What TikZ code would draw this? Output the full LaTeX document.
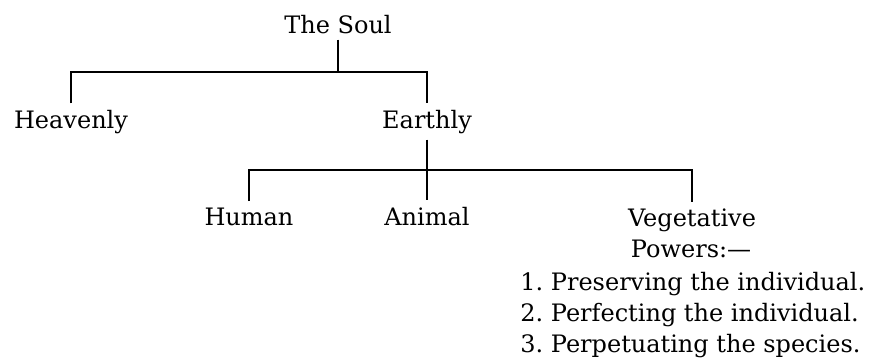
\documentclass[tikz,border=0pt]{standalone}
\usepackage{fontspec}
\setmainfont{DejaVu Serif}
\usepackage{tikz}
\usetikzlibrary{positioning}
\usetikzlibrary{calc}

\begin{document}
\frenchspacing
\begin{tikzpicture}[x=0.5pt,y=-0.5pt,
  label/.style={inner sep=3pt,anchor=base,font=\fontsize{12}{15.5}\selectfont},
  item/.style={inner sep=0pt,anchor=base west,font=\fontsize{12}{15.5}\selectfont},
  branch/.style={line width=1.25pt}]
\useasboundingbox (0,0) rectangle (871,359);

\node[label] (soul) at (338,33) {The Soul};
\node[label] (heavenly) at (71,128) {Heavenly};
\node[label] (earthly) at (427,128) {Earthly};

\node[label] (human) at (249,225) {Human};
\node[label] (animal) at (427,225) {Animal};
\node[label] (veg) at (692,226) {Vegetative};
\node[label] (powers) at (691,257) {Powers:—};

\node[item] (one) at (520,290) {1. Preserving the individual.};
\node[item] (two) at (520,321) {2. Perfecting the individual.};
\node[item] (three) at (520,352) {3. Perpetuating the species.};

\coordinate (j1) at (338,72);
\coordinate (j2) at (427,170);

\draw[branch] (soul.south) -- (j1);
\draw[branch] (heavenly.north) |- (j1) -| (earthly.north);
\draw[branch] (earthly.south) -- (animal.north);
\draw[branch] (human.north) |- (j2) -| (veg.north);
\end{tikzpicture}
\end{document}
